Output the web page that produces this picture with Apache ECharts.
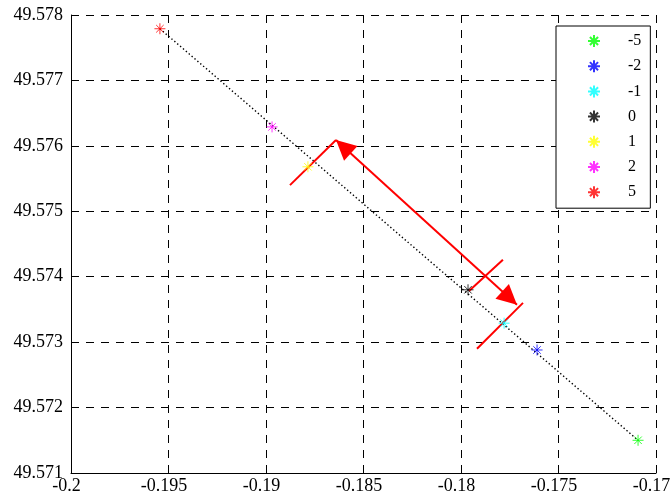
<!DOCTYPE html>
<html>
<head>
<meta charset="utf-8">
<script src="https://cdn.jsdelivr.net/npm/echarts@6/dist/echarts.min.js"></script>
<style>
  html, body { margin: 0; padding: 0; background: #fff; }
  #main { width: 672px; height: 498px; }
</style>
</head>
<body>
<div id="main"></div>
<script>
  // points, one per legend entry
  const names = ['-5', '-2', '-1', '0', '1', '2', '5'];
  const colors = ['#00ff00', '#0000ff', '#00ffff', '#000000', '#ffff00', '#ff00ff', '#ff0000'];
  const xs = [-0.17092, -0.17610, -0.17779, -0.17964, -0.18785, -0.18969, -0.19544];
  const ys = [49.57150, 49.57288, 49.57329, 49.57380, 49.57568, 49.57629, 49.57779];

  const xTickLabels = ['-0.2', '-0.195', '-0.19', '-0.185', '-0.18', '-0.175', '-0.17'];
  const yTickLabels = ['49.571', '49.572', '49.573', '49.574', '49.575', '49.576', '49.577', '49.578'];

  // red annotation (data coords)
  const arrowFrom = [-0.18641, 49.57609];
  const arrowTo = [-0.17713, 49.57357];
  const tickYellow = [[-0.18877, 49.57540], [-0.18641, 49.57609]];
  const tickBlack = [[-0.17785, 49.57426], [-0.17959, 49.57378]];
  const tickCyan = [[-0.17682, 49.57360], [-0.17918, 49.57290]];

  const star = 'path://M5 0L5 10M0 5L10 5M1.6 1.6L8.4 8.4M8.4 1.6L1.6 8.4';
  const font = 'Liberation Serif';

  let series = []
  for (let i = 0; i < names.length; i++) {
    series.push({
      name: names[i],
      type: 'scatter',
      symbol: star,
      symbolSize: 11,
      z: 5,
      itemStyle: { color: colors[i], borderColor: colors[i], borderWidth: 1 },
      data: [[xs[i], ys[i]]]
    })
  }
  // dotted line from "5" to "-5"
  series.push({
    type: 'line',
    silent: true,
    symbol: 'none',
    z: 3,
    lineStyle: { color: '#000', width: 1.4, type: [1.4, 2.4] },
    data: [[xs[6], ys[6]], [xs[0], ys[0]]]
  })
  // perpendicular red ticks
  series.push({
    type: 'line',
    silent: true,
    data: [],
    markLine: {
      silent: true,
      symbol: ['none', 'none'],
      label: { show: false },
      lineStyle: { color: '#ff0000', width: 2, type: 'solid' },
      data: [tickYellow, tickBlack, tickCyan].map(t => [{ coord: t[0] }, { coord: t[1] }])
    }
  })
  // double arrow
  series.push({
    type: 'line',
    silent: true,
    data: [],
    markLine: {
      silent: true,
      symbol: ['triangle', 'triangle'],
      symbolSize: [20, 20],
      symbolOffset: [[0, 10], [0, 10]],
      label: { show: false },
      lineStyle: { color: '#ff0000', width: 2, type: 'solid' },
      itemStyle: { color: '#ff0000' },
      data: [[{ coord: arrowFrom }, { coord: arrowTo }]]
    }
  })

  const chart = echarts.init(document.getElementById('main'));
  chart.setOption({
    animation: false,
    grid: { left: 71, right: 16, top: 15, bottom: 25, containLabel: false, outerBoundsMode: 'none' },
    legend: {
      orient: 'vertical',
      left: 556,
      top: 26,
      data: names,
      icon: star,
      itemWidth: 12,
      itemHeight: 12,
      itemGap: 9.2,
      padding: [7, 9, 8, 31],
      borderColor: '#000',
      borderWidth: 1,
      backgroundColor: '#fff',
      selectedMode: false,
      textStyle: { fontFamily: font, fontSize: 16, color: '#000', padding: [0, 0, 0, 23] }
    },
    xAxis: {
      type: 'value',
      min: -0.2,
      max: -0.17,
      interval: 0.005,
      axisLine: { show: true, onZero: false, lineStyle: { color: '#000', width: 1 } },
      axisTick: { show: true, inside: true, length: 5, lineStyle: { color: '#000' } },
      axisLabel: {
        fontFamily: font, fontSize: 18, color: '#000', margin: 4, padding: [0, 9, 0, 0],
        formatter: (v, i) => xTickLabels[i]
      },
      splitLine: { show: true, lineStyle: { color: '#000', width: 1, type: [8, 7] } }
    },
    yAxis: {
      type: 'value',
      min: 49.571,
      max: 49.578,
      interval: 0.001,
      axisLine: { show: true, onZero: false, lineStyle: { color: '#000', width: 1 } },
      axisTick: { show: true, inside: true, length: 5, lineStyle: { color: '#000' } },
      axisLabel: {
        fontFamily: font, fontSize: 18, color: '#000', margin: 8,
        formatter: (v, i) => yTickLabels[i]
      },
      splitLine: { show: true, lineStyle: { color: '#000', width: 1, type: [8, 7] } }
    },
    series: series
  });
</script>
</body>
</html>
